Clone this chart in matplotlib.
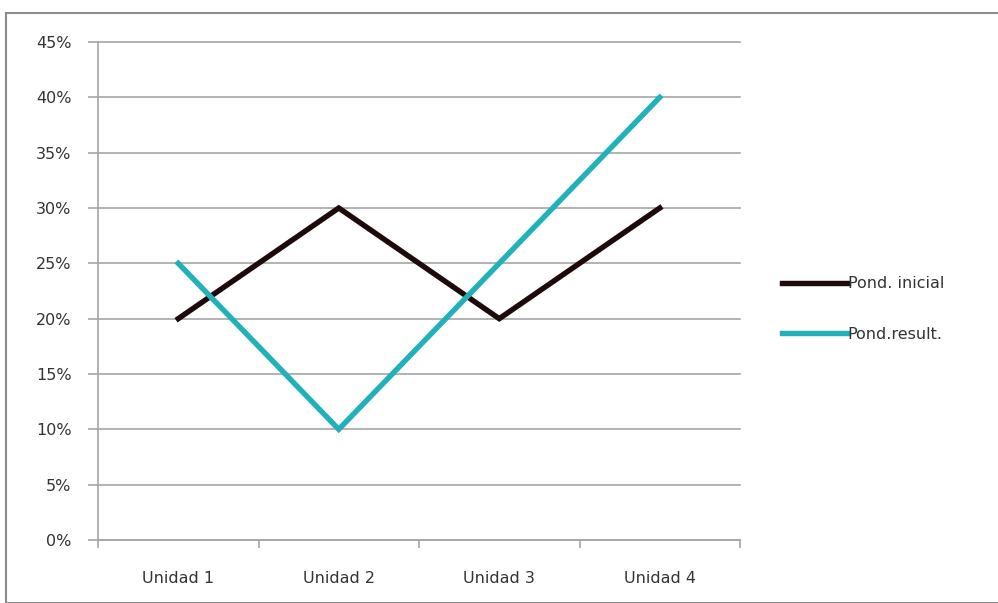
import matplotlib.pyplot as plt
from matplotlib.patches import Rectangle
from matplotlib.ticker import FixedLocator, NullFormatter

categories = ['Unidad 1', 'Unidad 2', 'Unidad 3', 'Unidad 4']
pond_inicial = [0.20, 0.30, 0.20, 0.30]
pond_result = [0.25, 0.10, 0.25, 0.40]
series_labels = ['Pond. inicial', 'Pond.result.']
yticks = [0, 0.05, 0.10, 0.15, 0.20, 0.25, 0.30, 0.35, 0.40, 0.45]

grid_color = '#a6a6a6'
text_color = '#333333'

fig = plt.figure(figsize=(9.98, 6.03), dpi=100)
fig.patches.append(Rectangle((6 / 998, 0), 1, 1 - 13 / 603, transform=fig.transFigure,
                             fill=False, edgecolor='#8c8c8c', linewidth=1.5))
ax = fig.add_axes([98 / 998, 1 - 540 / 603, 642 / 998, 498 / 603])

x = range(len(categories))
ax.plot(x, pond_inicial, color='#1e0a0a', linewidth=3.9, label=series_labels[0],
        solid_joinstyle='miter')
ax.plot(x, pond_result, color='#22b0bb', linewidth=3.9, label=series_labels[1],
        solid_joinstyle='miter')

ax.set_xlim(-0.5, len(categories) - 0.5)
ax.set_ylim(0, 0.45)
ax.set_yticks(yticks)
ax.set_yticklabels([f'{int(round(v * 100))}%' for v in yticks])
ax.yaxis.grid(True, color=grid_color, linewidth=1.2)
for gl in ax.get_ygridlines():
    gl.set_clip_on(False)
ax.set_axisbelow(True)

ax.set_xticks(list(x))
ax.set_xticklabels(categories)
ax.xaxis.set_minor_locator(FixedLocator([i - 0.5 for i in range(len(categories) + 1)]))
ax.xaxis.set_minor_formatter(NullFormatter())
ax.tick_params(axis='x', which='major', length=0, pad=22, labelsize=11.5, labelcolor=text_color)
ax.tick_params(axis='x', which='minor', length=6, width=1.2, color=grid_color)
ax.tick_params(axis='y', length=7, width=1.2, color=grid_color, pad=12, labelsize=11.5,
               labelcolor=text_color)

for side in ['top', 'right']:
    ax.spines[side].set_visible(False)
for side in ['left', 'bottom']:
    ax.spines[side].set_color(grid_color)
    ax.spines[side].set_linewidth(1.2)

fig.legend(loc='center left', bbox_to_anchor=(768 / 998, 1 - 309 / 603), frameon=False,
           fontsize=11.5, handlelength=4.1, handletextpad=0.0, labelspacing=2.2,
           labelcolor=text_color)

fig.savefig('out.png', dpi=100)
